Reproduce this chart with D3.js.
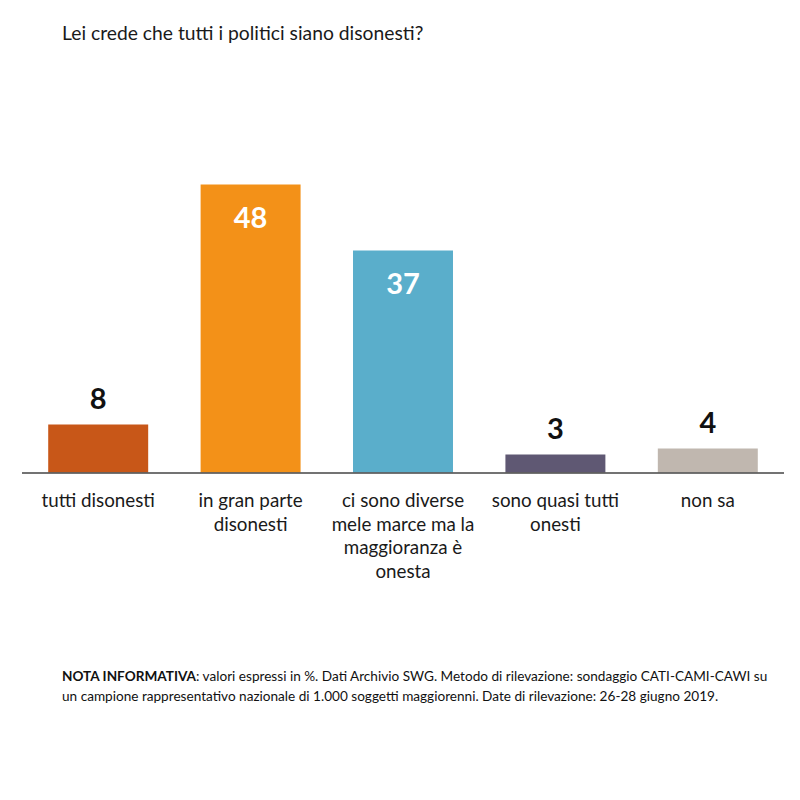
<!DOCTYPE html>
<html>
<head>
<meta charset="utf-8">
<script src="https://cdn.jsdelivr.net/npm/d3@7"></script>
<style>
  html, body { margin: 0; padding: 0; background: #fff; }
  svg text { font-family: Lato, "Open Sans", sans-serif; }
</style>
</head>
<body>
<svg id="chart" width="800" height="800"></svg>
<script>
const title = "Lei crede che tutti i politici siano disonesti?";
const categories = [
  ["tutti disonesti"],
  ["in gran parte", "disonesti"],
  ["ci sono diverse", "mele marce ma la", "maggioranza è", "onesta"],
  ["sono quasi tutti", "onesti"],
  ["non sa"]
];
const values = [8, 48, 37, 3, 4];
const colors = ["#C85718", "#F39118", "#5AAECB", "#5F5873", "#C0B7AF"];
const insideLabel = [false, true, true, false, false];
const noteBold = "NOTA INFORMATIVA";
const noteLines = [
  ": valori espressi in %. Dati Archivio SWG. Metodo di rilevazione: sondaggio CATI-CAMI-CAWI su",
  "un campione rappresentativo nazionale di 1.000 soggetti maggiorenni. Date di rilevazione: 26-28 giugno 2019."
];

const svg = d3.select("#chart");

svg.append("text")
  .attr("x", 62).attr("y", 40)
  .attr("font-size", 19.3)
  .attr("fill", "#1a1a1a")
  .text(title);

const x = d3.scaleBand()
  .domain(d3.range(values.length))
  .range([22, 784])
  .paddingInner(0.344)
  .paddingOuter(0.172);

const y = d3.scaleLinear().domain([0, 48]).range([472.5, 184.5]);

svg.selectAll("rect.bar")
  .data(values)
  .join("rect")
  .attr("class", "bar")
  .attr("x", (d, i) => x(i))
  .attr("width", x.bandwidth())
  .attr("y", d => y(d))
  .attr("height", d => y(0) - y(d))
  .attr("fill", (d, i) => colors[i]);

svg.append("line")
  .attr("x1", 22).attr("x2", 784)
  .attr("y1", y(0) + 0.5).attr("y2", y(0) + 0.5)
  .attr("stroke", "#444").attr("stroke-width", 1.3);

svg.selectAll("text.val")
  .data(values)
  .join("text")
  .attr("class", "val")
  .attr("x", (d, i) => x(i) + x.bandwidth() / 2)
  .attr("y", (d, i) => insideLabel[i] ? y(d) + 43 : y(d) - 16)
  .attr("text-anchor", "middle")
  .attr("font-size", 29)
  .attr("font-weight", "bold")
  .attr("fill", (d, i) => insideLabel[i] ? "#ffffff" : "#111")
  .text(d => d);

const lab = svg.selectAll("text.cat")
  .data(categories)
  .join("text")
  .attr("class", "cat")
  .attr("text-anchor", "middle")
  .attr("font-size", 18.8)
  .attr("fill", "#1a1a1a");
lab.each(function(lines, i) {
  d3.select(this).selectAll("tspan")
    .data(lines)
    .join("tspan")
    .attr("x", x(i) + x.bandwidth() / 2)
    .attr("y", (l, j) => 507 + j * 23.5)
    .text(l => l);
});

const note = svg.append("g").attr("font-size", 13.6).attr("fill", "#111");
const t1 = note.append("text").attr("x", 62).attr("y", 681);
t1.append("tspan").attr("font-weight", "bold").text(noteBold);
t1.append("tspan").text(noteLines[0]);
note.append("text").attr("x", 62).attr("y", 701).text(noteLines[1]);
</script>
</body>
</html>
